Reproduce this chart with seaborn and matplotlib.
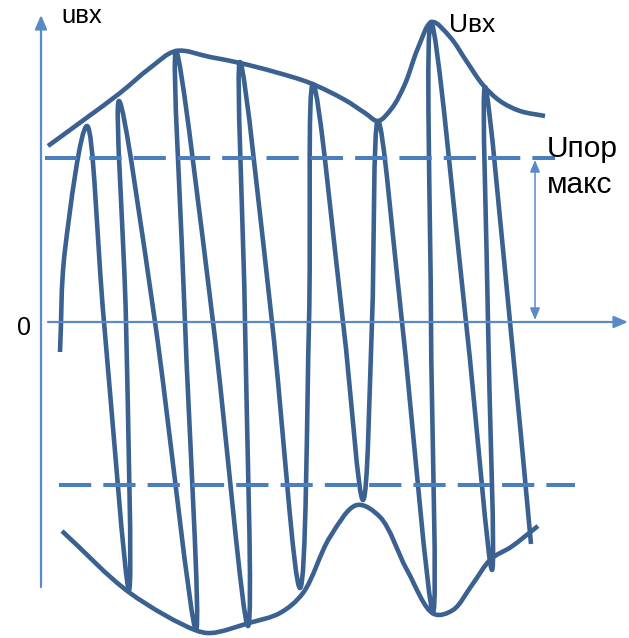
import numpy as np
import matplotlib
matplotlib.use("Agg")
import matplotlib.pyplot as plt
from matplotlib.path import Path
from matplotlib.patches import PathPatch
import seaborn as sns

# Input voltage u_вх: start, then alternating peak / zero crossing / trough points (time, voltage)
carrier_t = [60, 65, 87, 104, 129, 126, 119, 155, 196, 185, 176, 213, 248, 245, 240,
             272, 300, 309, 313, 343, 363, 372, 378, 402, 433, 431, 431, 466, 492, 488,
             485, 510, 531]
carrier_v = [-30, 72, 196, 0, -268, 0, 221, 0, -308, 0, 271, 0, -304, 0, 260,
             0, -266, 0, 238, 0, -178, 0, 201, 0, -290, 0, 300, 0, -248, 0,
             235, 0, -222]

# Envelope U_вх (upper and lower)
upper_env_t = [48, 85, 120, 150, 176, 210, 240, 275, 310, 345, 365, 378, 392, 405, 418, 432,
               450, 467, 483, 500, 520, 545]
upper_env_v = [176, 203, 229, 254, 271, 265, 259, 250, 239, 222, 209, 201, 214, 238, 274, 300,
               285, 260, 237, 221, 211, 206]
lower_env_t = [62, 130, 195, 211, 249, 280, 303, 330, 357, 380, 407, 434, 453, 472, 491, 511, 538]
lower_env_v = [-209, -271, -308, -311, -301, -291, -271, -215, -183, -195, -248, -292, -288,
               -263, -237, -225, -204]

# Threshold levels ±U_пор макс and the time span they are drawn over
threshold_v = [164, -163]
threshold_t = [(45, 555), (59, 575)]

# Axes of the diagram
v_axis_t, v_axis_v = 41, (-265, 307)
t_axis_v, t_axis_t = 0, (48, 628)
dim_arrow_t = 535

CURVE = "#3b6191"
DASH = "#4a7ebf"
AXIS = "#5a8ac6"

sns.set_theme(style="white")
plt.rcParams["font.family"] = ["Liberation Sans", "DejaVu Sans"]

fig = plt.figure(figsize=(6.29, 6.38), dpi=100)
ax = fig.add_axes([0, 0, 1, 1])
ax.set_xlim(0, 629)
ax.set_ylim(-316, 322)
ax.axis("off")


def bezier_path(p, m):
    """Cubic Hermite curve through points p with tangents m, as Bezier segments."""
    verts, codes = [p[0]], [Path.MOVETO]
    for i in range(len(p) - 1):
        verts += [p[i] + m[i] / 3, p[i + 1] - m[i + 1] / 3, p[i + 1]]
        codes += [Path.CURVE4] * 3
    return Path(verts, codes)


def smooth_path(t, v, alpha=0.5):
    """Centripetal Catmull-Rom curve through the points."""
    p = np.column_stack([t, v]).astype(float)
    ext = np.vstack([2 * p[0] - p[1], p, 2 * p[-1] - p[-2]])
    verts, codes = [p[0]], [Path.MOVETO]
    for i in range(len(p) - 1):
        p0, p1, p2, p3 = ext[i], ext[i + 1], ext[i + 2], ext[i + 3]
        d0 = max(np.linalg.norm(p1 - p0) ** alpha, 1e-6)
        d1 = max(np.linalg.norm(p2 - p1) ** alpha, 1e-6)
        d2 = max(np.linalg.norm(p3 - p2) ** alpha, 1e-6)
        m1 = ((p1 - p0) / d0 - (p2 - p0) / (d0 + d1) + (p2 - p1) / d1) * d1
        m2 = ((p2 - p1) / d1 - (p3 - p1) / (d1 + d2) + (p3 - p2) / d2) * d1
        verts += [p1 + m1 / 3, p2 - m2 / 3, p2]
        codes += [Path.CURVE4] * 3
    return Path(verts, codes)


def wave_path(t, v, tip=0.5):
    """Curve through the wave points with flat tangents at peaks and troughs."""
    p = np.column_stack([t, v]).astype(float)
    n = len(p)
    m = np.zeros_like(p)
    m[0] = p[1] - p[0]
    m[-1] = p[-1] - p[-2]
    for i in range(1, n - 1):
        extremum = (p[i, 1] - p[i - 1, 1]) * (p[i + 1, 1] - p[i, 1]) < 0
        if extremum:
            m[i] = [(p[i + 1, 0] - p[i - 1, 0]) * tip, 0.0]
        else:
            m[i] = (p[i + 1] - p[i - 1]) / 2
    return bezier_path(p, m)


# axes with arrows
arrow_kw = dict(arrowstyle="-|>,head_length=0.7,head_width=0.3", color=AXIS, lw=1.6,
                shrinkA=0, shrinkB=0)
ax.annotate("", xy=(v_axis_t, v_axis_v[1]), xytext=(v_axis_t, v_axis_v[0]),
            arrowprops=arrow_kw)
ax.annotate("", xy=(t_axis_t[1], t_axis_v), xytext=(t_axis_t[0], t_axis_v),
            arrowprops=arrow_kw)

# threshold dashed lines
for lvl, (t0, t1) in zip(threshold_v, threshold_t):
    sns.lineplot(x=[t0, t1], y=[lvl, lvl], ax=ax, color=DASH, lw=2.9,
                 linestyle=(0, (8, 3)), solid_capstyle="butt")

# dimension arrow for U_пор макс
ax.annotate("", xy=(dim_arrow_t, threshold_v[0] - 2), xytext=(dim_arrow_t, t_axis_v + 2),
            arrowprops=dict(arrowstyle="<|-|>,head_length=0.6,head_width=0.25",
                            color=AXIS, lw=1.1, shrinkA=0, shrinkB=0))

# envelopes and carrier
style = dict(fill=False, edgecolor=CURVE, lw=3.3, capstyle="butt", joinstyle="round")
ax.add_patch(PathPatch(smooth_path(upper_env_t, upper_env_v), **style))
ax.add_patch(PathPatch(smooth_path(lower_env_t, lower_env_v), **style))
ax.add_patch(PathPatch(wave_path(carrier_t, carrier_v), **style))

# labels
ax.text(61, 322 - 23, "uвх", fontsize=18.5, ha="left", va="baseline", color="black")
ax.text(449, 322 - 32, "Uвх", fontsize=19, ha="left", va="baseline", color="black")
ax.text(547, 322 - 157, "Uпор", fontsize=21.5, ha="left", va="baseline", color="black")
ax.text(547, 322 - 193, "макс", fontsize=21.5, ha="left", va="baseline", color="black")
ax.text(17, 322 - 335, "0", fontsize=18, ha="left", va="baseline", color="black")

fig.savefig("out.png", dpi=100)
